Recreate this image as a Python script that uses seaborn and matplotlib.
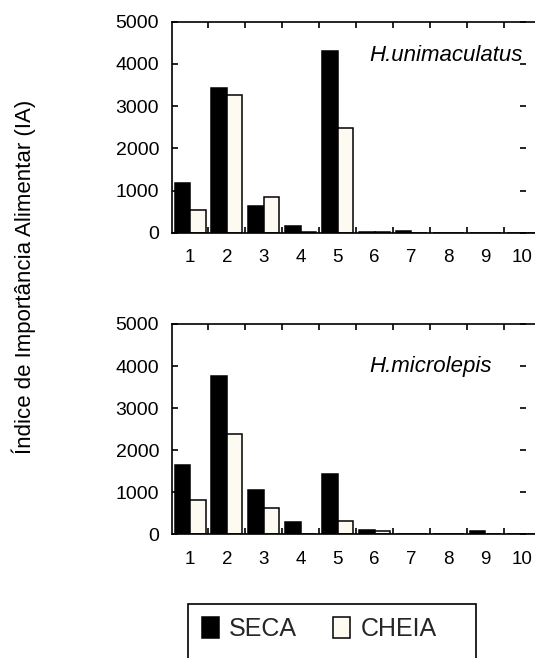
import matplotlib
matplotlib.use("Agg")
import matplotlib.pyplot as plt
from matplotlib.patches import Rectangle, Patch
from matplotlib.ticker import FixedLocator
import seaborn as sns
import pandas as pd
import numpy as np

# Food items (1-10) and feeding importance index per season
items = ["1", "2", "3", "4", "5", "6", "7", "8", "9", "10"]
seasons = ["SECA", "CHEIA"]

unimaculatus_seca = [1167, 3421, 643, 160, 4310, 12, 30, 0, 0, 0]
unimaculatus_cheia = [540, 3254, 850, 25, 2485, 12, 0, 0, 0, 0]

microlepis_seca = [1643, 3752, 1055, 286, 1436, 110, 15, 10, 86, 5]
microlepis_cheia = [817, 2381, 633, 10, 324, 79, 5, 10, 15, 5]

y_ticks = [0, 1000, 2000, 3000, 4000, 5000]

sns.set_theme(style="white")
plt.rcParams["font.family"] = ["Liberation Sans", "DejaVu Sans"]

W, H = 535, 658
fig = plt.figure(figsize=(W / 100, H / 100), dpi=100)

colors = {"SECA": "#000000", "CHEIA": "#FFFBF0"}

left = 171.6 / W
width = 369.0 / W


def frame(seca, cheia):
    return pd.DataFrame({
        "item": items * 2,
        "season": ["SECA"] * len(items) + ["CHEIA"] * len(items),
        "IA": list(seca) + list(cheia),
    })


def panel(rect, seca, cheia, name, name_y):
    ax = fig.add_axes(rect)
    sns.barplot(data=frame(seca, cheia), x="item", y="IA", hue="season",
                hue_order=seasons, order=items, palette=colors,
                width=0.84, edgecolor="black", linewidth=1.1,
                legend=False, ax=ax)
    ax.set_xlim(-0.5, len(items) - 0.5)
    ax.set_ylim(0, 5000)
    ax.set_yticks(y_ticks)
    ax.set_yticklabels([str(v) for v in y_ticks])
    ax.set_xlabel("")
    ax.set_ylabel("")
    for s in ["left", "bottom", "top"]:
        ax.spines[s].set_visible(True)
        ax.spines[s].set_color("black")
        ax.spines[s].set_linewidth(1.2)
    # right-hand ticks sit a little inside the plot area, without a spine line
    ax.spines["right"].set_position(("axes", (526 - 171.6) / 369.0))
    ax.spines["right"].set_visible(False)
    # group separators as minor ticks on top and bottom
    ax.xaxis.set_minor_locator(FixedLocator(np.arange(0.5, len(items) - 1, 1.0)))
    ax.tick_params(axis="x", which="major", length=0, pad=12, labelsize=13.5,
                   colors="black")
    ax.tick_params(axis="x", which="minor", direction="in", length=4.5,
                   width=1.2, top=True, bottom=True, color="black")
    ax.tick_params(axis="y", which="major", direction="in", length=4,
                   width=1.2, left=True, right=True, pad=9, labelsize=14,
                   colors="black", labelright=False)
    ax.text(0.535, name_y, name, transform=ax.transAxes, fontsize=16,
            style="italic", ha="left", va="center", color="black")
    return ax


ax1 = panel([left, 1 - 232.7 / H, width, (232.7 - 21.7) / H],
            unimaculatus_seca, unimaculatus_cheia, "H.unimaculatus", 0.84)
ax2 = panel([left, 1 - 534.3 / H, width, (534.3 - 324.0) / H],
            microlepis_seca, microlepis_cheia, "H.microlepis", 0.8)

fig.text(24 / W, 1 - 277 / H, "Índice de Importância Alimentar (IA)",
         rotation=90, ha="center", va="center", fontsize=16, color="black")

# legend with a square-cornered frame running off the bottom edge
fig.patches.append(Rectangle((188 / W, 1 - 680 / H), (476 - 188) / W,
                             (680 - 603.5) / H, transform=fig.transFigure,
                             fill=False, edgecolor="black", linewidth=1.2))
handles = [Patch(facecolor=colors[s], edgecolor="black", linewidth=1.1)
           for s in seasons]
fig.legend(handles, seasons, loc="center left",
           bbox_to_anchor=(202 / W, 1 - 629 / H), ncol=2, frameon=False,
           fontsize=18, handlelength=0.68, handleheight=0.88,
           handletextpad=0.4, columnspacing=1.45, borderpad=0, borderaxespad=0)

fig.savefig("out.png", dpi=100)
